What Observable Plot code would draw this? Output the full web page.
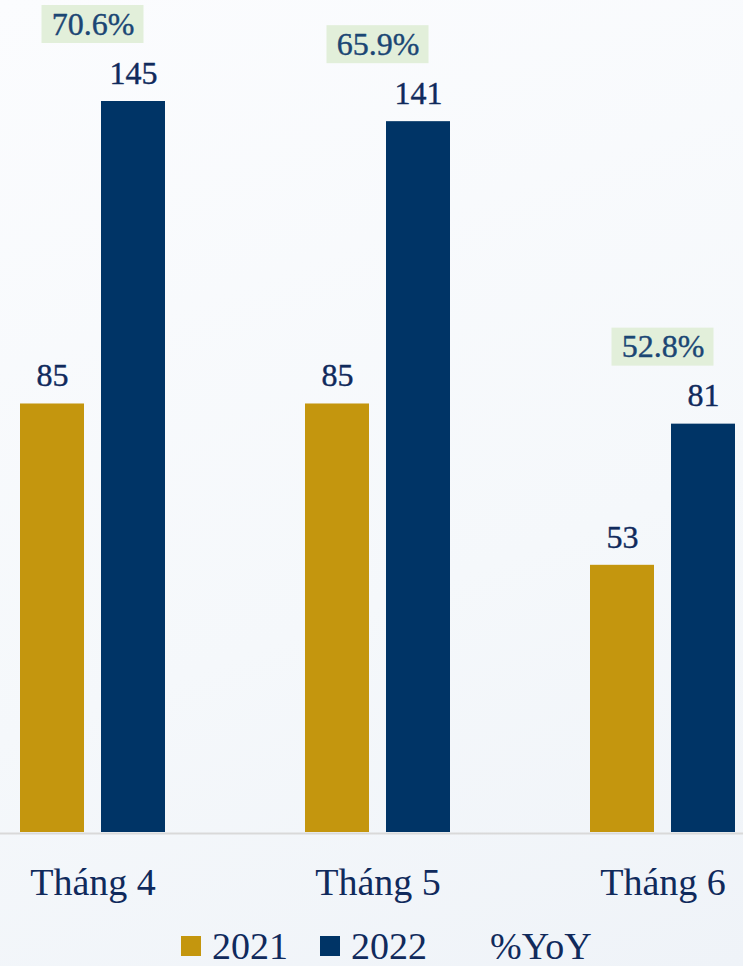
<!DOCTYPE html>
<html><head><meta charset="utf-8">
<script src="https://cdn.jsdelivr.net/npm/d3@7"></script>
<script src="https://cdn.jsdelivr.net/npm/@observablehq/plot@0.6"></script>
<style>
body{margin:0;width:743px;height:966px;overflow:hidden;background:linear-gradient(160deg,#fbfcfe 0%,#f5f8fb 60%,#eff3f8 100%);font-family:"Liberation Serif",serif;}
#legend{display:flex;align-items:center;height:62px;padding-left:181px;font-size:38px;color:#102a5c;line-height:1}
.item{display:flex;align-items:center;margin-right:32px}
.sw{width:20px;height:20px;margin-right:11px}
</style></head><body>
<div id="chart"></div><div id="legend"></div>
<script>
const months = ["Tháng 4","Tháng 5","Tháng 6"];
const series = ["2021","2022"];
const values2021 = [85,85,53];
const values2022 = [145,141,81];
const yoy = [70.6,65.9,52.8];
const colors = ["#c4960e","#003466"];
const legendLabels = ["2021","2022","%YoY"];
const legendColors = ["#c4960e","#003466","transparent"];

const rows = months.flatMap((m,i)=>[
  {month:m, year:series[0], value:values2021[i]},
  {month:m, year:series[1], value:values2022[i]}
]);
const yoyRows = months.map((m,i)=>({month:m, value:values2022[i], label: yoy[i].toFixed(1)+"%"}));

const chart = Plot.plot({
  width:743, height:915, marginTop:101, marginBottom:83, marginLeft:0, marginRight:0,
  style:{background:"transparent", fontFamily:"Liberation Serif, serif", overflow:"visible"},
  fx:{domain:months, range:[-50,805], padding:0, label:null},
  x:{domain:series, paddingInner:0.21, paddingOuter:0.864, axis:null},
  y:{domain:[0,145], axis:null},
  color:{domain:series, range:colors},
  marks:[
    Plot.ruleY([0],{stroke:"#d9d9d9", strokeWidth:2, dy:1}),
    Plot.barY(rows,{fx:"month", x:"year", y:"value", fill:"year"}),
    Plot.text(rows,{fx:"month", x:"year", y:"value", text: d=>String(d.value), dy:-28, fontSize:32, fill:"#102a5c", stroke:"#102a5c", strokeWidth:0.4, fontFamily:"Liberation Serif, serif"}),
    Plot.barY(yoyRows,{fx:"month", y1:"value", y2:"value", insetTop:-19, insetBottom:-19, insetLeft:91.5, insetRight:91.5, dy:-77, fill:"#e2efda"}),
    Plot.text(yoyRows,{fx:"month", y:"value", text:"label", dy:-77, fontSize:32, fill:"#1b4674", stroke:"#1b4674", strokeWidth:0.4, fontFamily:"Liberation Serif, serif"}),
    Plot.axisFx({anchor:"bottom", tickSize:0, tickPadding:36, fontSize:38, fill:"#102a5c", stroke:"#102a5c", strokeWidth:0.4, label:null, fontFamily:"Liberation Serif, serif"})
  ]
});
document.getElementById("chart").appendChild(chart);

const legend = d3.select("#legend");
legendLabels.forEach((t,i)=>{
  const it = legend.append("div").attr("class","item");
  it.append("div").attr("class","sw").style("background", legendColors[i]);
  it.append("span").text(t);
});
</script>
</body></html>
